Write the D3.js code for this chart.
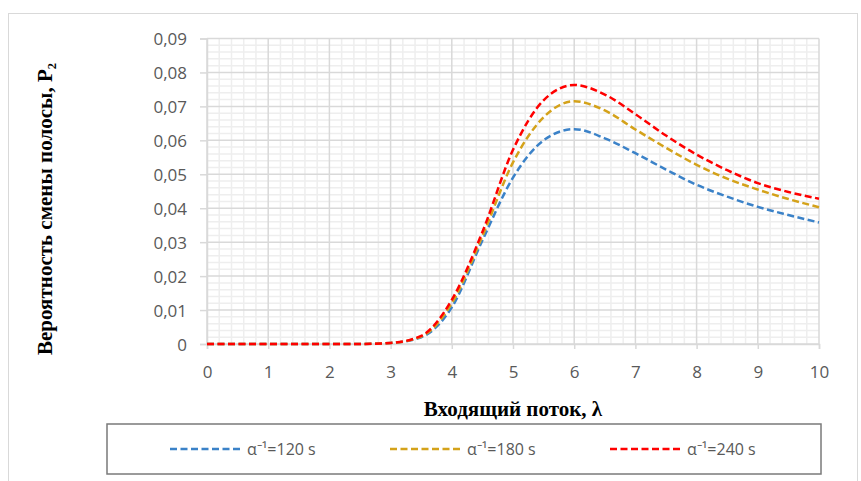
<!DOCTYPE html>
<html>
<head>
<meta charset="utf-8">
<script src="https://cdn.jsdelivr.net/npm/d3@7"></script>
<style>
  body { margin: 0; background: #fff; }
  svg { display: block; }
  .tick-label { font-family: "Open Sans", sans-serif; font-size: 17px; fill: #595959; }
  .legend-label { font-family: "Open Sans", sans-serif; font-size: 16px; fill: #595959; }
  .axis-title { font-family: "Liberation Serif", "Times New Roman", serif; font-weight: bold; fill: #000; }
</style>
</head>
<body>
<div id="chart"></div>
<script>
// incoming flow, lambda
const lambdaVals = [0, 0.5, 1, 1.5, 2, 2.5, 3, 3.5, 4, 4.5, 5, 5.5, 6, 6.5, 7, 7.5, 8, 8.5, 9, 9.5, 10];
// lane change probability P2 for each alpha^-1
const p120 = [0, 0, 0, 0, 0, 0, 0.0003, 0.0020, 0.0108, 0.0305, 0.0490, 0.0600, 0.0633, 0.0606, 0.0562, 0.0514, 0.0469, 0.0434, 0.0404, 0.0380, 0.0358];
const p180 = [0, 0, 0, 0, 0, 0, 0.0003, 0.0022, 0.0120, 0.0318, 0.0535, 0.0668, 0.0715, 0.0688, 0.0632, 0.0578, 0.0528, 0.0487, 0.0455, 0.0427, 0.0403];
const p240 = [0, 0, 0, 0, 0, 0, 0.0003, 0.0024, 0.0130, 0.0330, 0.0572, 0.0718, 0.0763, 0.0735, 0.0677, 0.0614, 0.0558, 0.0512, 0.0474, 0.0448, 0.0428];
const seriesNames = ['α⁻¹=120 s', 'α⁻¹=180 s', 'α⁻¹=240 s'];
const seriesColors = ['#3b82c8', '#d4a21a', '#ff0000'];
const xTicks = [0, 1, 2, 3, 4, 5, 6, 7, 8, 9, 10];
const yTicks = [0, 0.01, 0.02, 0.03, 0.04, 0.05, 0.06, 0.07, 0.08, 0.09];
const xTitle = 'Входящий поток, λ';
const yTitle = 'Вероятность смены полосы, P₂';

const W = 861, H = 481;
const plot = {left: 207, right: 819, top: 38.5, bottom: 344};

const svg = d3.select('#chart').append('svg')
  .attr('width', W)
  .attr('height', H);

// chart frame
svg.append('rect')
  .attr('x', 8.5).attr('y', 13.5)
  .attr('width', 849).attr('height', 490)
  .attr('fill', 'none')
  .attr('stroke', '#d9d9d9')
  .attr('stroke-width', 1);

const x = d3.scaleLinear().domain([0, 10]).range([plot.left, plot.right]);
const y = d3.scaleLinear().domain([0, 0.09]).range([plot.bottom, plot.top]);

/* minor gridlines */
const grid = svg.append('g');
const xMinor = d3.range(0, 10.001, 0.2).filter(v => Math.abs(v - Math.round(v)) > 1e-6);
const yMinor = d3.range(0, 0.09001, 0.002).filter(v => Math.abs(v * 100 - Math.round(v * 100)) > 1e-6);

grid.selectAll('.vminor').data(xMinor).enter().append('line')
  .attr('x1', d => x(d)).attr('x2', d => x(d))
  .attr('y1', plot.top).attr('y2', plot.bottom)
  .attr('stroke', '#eeeeee').attr('stroke-width', 1.5);
grid.selectAll('.hminor').data(yMinor).enter().append('line')
  .attr('x1', plot.left).attr('x2', plot.right)
  .attr('y1', d => y(d)).attr('y2', d => y(d))
  .attr('stroke', '#eeeeee').attr('stroke-width', 1.5);

/* major gridlines */
grid.selectAll('.vmajor').data(xTicks).enter().append('line')
  .attr('x1', d => x(d)).attr('x2', d => x(d))
  .attr('y1', plot.top).attr('y2', plot.bottom)
  .attr('stroke', '#d9d9d9').attr('stroke-width', 1.5);
grid.selectAll('.hmajor').data(yTicks).enter().append('line')
  .attr('x1', plot.left).attr('x2', plot.right)
  .attr('y1', d => y(d)).attr('y2', d => y(d))
  .attr('stroke', '#d9d9d9').attr('stroke-width', 1.5);

/* axes */
const xAxis = d3.axisBottom(x).tickValues(xTicks).tickSize(5).tickPadding(17).tickFormat(d3.format('d'));
const yAxis = d3.axisLeft(y).tickValues(yTicks).tickSize(7).tickPadding(13)
  .tickFormat(d => d === 0 ? '0' : d3.format('.2f')(d).replace('.', ','));

const gx = svg.append('g').attr('transform', `translate(0,${plot.bottom})`).call(xAxis);
const gy = svg.append('g').attr('transform', `translate(${plot.left},0)`).call(yAxis);
[gx, gy].forEach(g => {
  g.select('.domain').attr('stroke', '#d9d9d9').attr('stroke-width', 1.5);
  g.selectAll('.tick line').attr('stroke', '#d9d9d9').attr('stroke-width', 1.5);
  g.selectAll('.tick text').attr('class', 'tick-label').attr('fill', null);
});
gy.selectAll('.tick text').attr('dy', '0.36em');

/* lines */
const allSeries = [p120, p180, p240];
const line = d3.line()
  .x((d, i) => x(lambdaVals[i]))
  .y(d => y(d))
  .curve(d3.curveMonotoneX);

svg.append('g').selectAll('path')
  .data(allSeries).enter()
  .append('path')
  .attr('d', d => line(d))
  .attr('fill', 'none')
  .attr('stroke', (d, i) => seriesColors[i])
  .attr('stroke-width', 2.5)
  .attr('stroke-dasharray', '7,3.5');

/* axis titles */
svg.append('text')
  .attr('class', 'axis-title')
  .attr('x', (plot.left + plot.right) / 2)
  .attr('y', 416)
  .attr('text-anchor', 'middle')
  .style('font-size', '21px')
  .text(xTitle);

svg.append('text')
  .attr('class', 'axis-title')
  .attr('transform', 'translate(52,209) rotate(-90)')
  .attr('text-anchor', 'middle')
  .style('font-size', '21px')
  .text(yTitle);

/* legend */
const legend = svg.append('g');
legend.append('rect')
  .attr('x', 107).attr('y', 424)
  .attr('width', 714).attr('height', 50)
  .attr('fill', 'none')
  .attr('stroke', '#7a7a7a')
  .attr('stroke-width', 1.5);

const legendX = [170, 390, 610];
const items = legend.selectAll('.item')
  .data(seriesNames).enter()
  .append('g')
  .attr('transform', (d, i) => `translate(${legendX[i]},449)`);
items.append('line')
  .attr('x1', 0).attr('x2', 73)
  .attr('stroke', (d, i) => seriesColors[i])
  .attr('stroke-width', 2.5)
  .attr('stroke-dasharray', '7,3.5');
items.append('text')
  .attr('class', 'legend-label')
  .attr('x', 77)
  .attr('dy', '0.36em')
  .text(d => d);
</script>
</body>
</html>
